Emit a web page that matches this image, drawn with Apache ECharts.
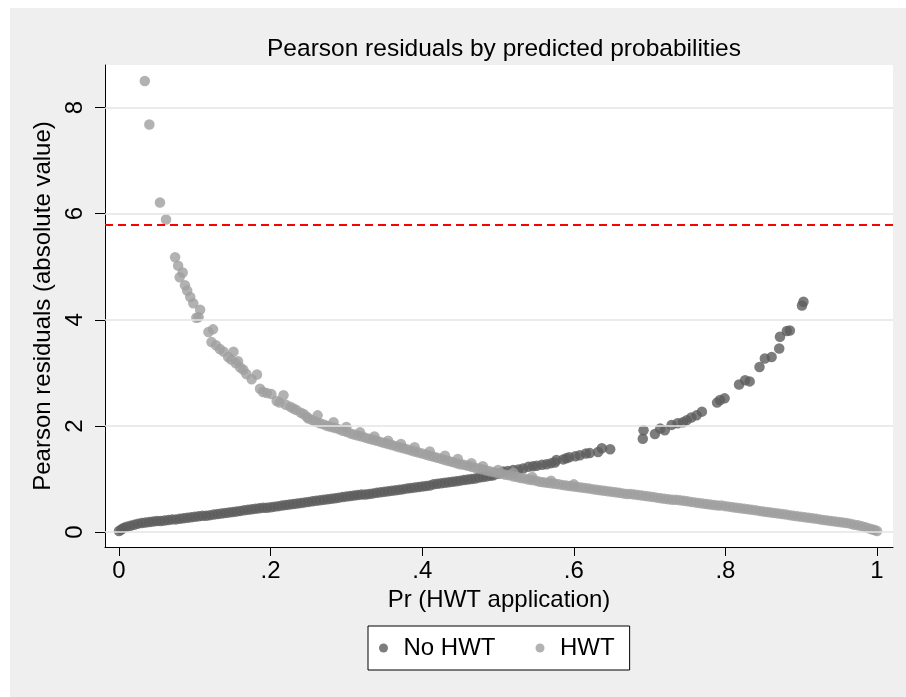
<!DOCTYPE html>
<html>
<head>
<meta charset="utf-8">
<script src="https://cdn.jsdelivr.net/npm/echarts@6/dist/echarts.min.js"></script>
<style>
  html, body { margin: 0; padding: 0; background: #ffffff; }
  #chart { width: 906px; height: 697px; }
</style>
</head>
<body>
<div id="chart"></div>
<script>
// Axis ticks
const xTicks = [0, 0.2, 0.4, 0.6, 0.8, 1];
const xTickLabels = ['0', '.2', '.4', '.6', '.8', '1'];
const yTicks = [0, 2, 4, 6, 8];
const yTickLabels = ['0', '2', '4', '6', '8'];
const gridValues = [0, 2, 4, 6, 8];
const cutoff = 5.8;

// No HWT: [predicted probability, |Pearson residual|]
const noHwtBand = [
  [0.000,0.02],[0.003,0.05],[0.006,0.08],[0.010,0.10],[0.015,0.12],[0.020,0.14],[0.025,0.16],
  [0.030,0.17],[0.035,0.18],[0.040,0.19],[0.045,0.20],[0.050,0.21],[0.055,0.21],[0.060,0.22],
  [0.065,0.23],[0.070,0.24],[0.075,0.24],[0.080,0.25],[0.085,0.26],[0.090,0.27],[0.095,0.28],
  [0.100,0.29],[0.105,0.30],[0.110,0.31],[0.115,0.31],[0.120,0.32],[0.125,0.33],[0.130,0.34],
  [0.135,0.35],[0.140,0.36],[0.145,0.37],[0.150,0.38],[0.155,0.39],[0.160,0.40],[0.165,0.41],
  [0.170,0.42],[0.175,0.43],[0.180,0.44],[0.185,0.45],[0.190,0.46],[0.195,0.46],[0.200,0.47],
  [0.205,0.48],[0.210,0.49],[0.215,0.50],[0.220,0.51],[0.225,0.52],[0.230,0.53],[0.235,0.54],
  [0.240,0.55],[0.245,0.56],[0.250,0.57],[0.255,0.58],[0.260,0.59],[0.265,0.60],[0.270,0.61],
  [0.275,0.62],[0.280,0.63],[0.285,0.64],[0.290,0.65],[0.295,0.66],[0.300,0.67],[0.305,0.68],
  [0.310,0.69],[0.315,0.70],[0.320,0.71],[0.325,0.71],[0.330,0.72],[0.335,0.73],[0.340,0.74],
  [0.345,0.75],[0.350,0.76],[0.355,0.77],[0.360,0.78],[0.365,0.79],[0.370,0.80],[0.375,0.81],
  [0.380,0.82],[0.385,0.83],[0.390,0.84],[0.395,0.85],[0.400,0.86],[0.405,0.87],[0.410,0.88],
  [0.415,0.90],[0.420,0.91],[0.425,0.92],[0.430,0.93],[0.435,0.94],[0.440,0.95],[0.445,0.96],
  [0.450,0.97],[0.455,0.98],[0.460,0.99],[0.465,1.00],[0.470,1.01],[0.475,1.03],[0.480,1.04],
  [0.485,1.05],[0.490,1.06]
];
const noHwtTail = [
  [0.494,1.07],[0.500,1.10],[0.507,1.14],[0.513,1.15],[0.520,1.17],[0.527,1.18],[0.533,1.20],
  [0.540,1.23],[0.546,1.24],[0.551,1.25],[0.558,1.27],[0.564,1.28],[0.570,1.30],[0.575,1.31],
  [0.577,1.36],[0.586,1.37],[0.590,1.39],[0.594,1.41],[0.602,1.43],[0.608,1.45],[0.616,1.48],
  [0.621,1.49],[0.632,1.51],[0.637,1.58],[0.648,1.56],[0.691,1.76],[0.692,1.92],[0.707,1.85],
  [0.714,1.95],[0.720,1.92],[0.729,2.02],[0.737,2.05],[0.744,2.07],[0.749,2.11],[0.755,2.16],
  [0.762,2.20],[0.769,2.27],[0.789,2.44],[0.793,2.49],[0.799,2.52],[0.818,2.78],[0.826,2.86],
  [0.832,2.84],[0.845,3.11],[0.852,3.27],[0.861,3.30],[0.871,3.46],[0.872,3.68],[0.881,3.79],
  [0.885,3.80],[0.901,4.27],[0.903,4.34]
];

// HWT: [predicted probability, |Pearson residual|]
const hwtTail = [
  [0.034,8.50],[0.040,7.68],[0.054,6.21],[0.062,5.89],[0.074,5.18],[0.078,5.02],[0.084,4.89],
  [0.080,4.80],[0.087,4.65],[0.090,4.55],[0.094,4.43],[0.098,4.31],[0.107,4.19],[0.105,4.05],
  [0.102,4.04],[0.118,3.77],[0.124,3.82],[0.122,3.58],[0.128,3.52],[0.133,3.45],[0.138,3.40],
  [0.144,3.30],[0.151,3.40],[0.148,3.25],[0.154,3.18],[0.157,3.22],[0.160,3.10],[0.164,3.06],
  [0.168,2.98],[0.175,2.88],[0.182,2.97],[0.186,2.70],[0.190,2.64],[0.195,2.62],[0.201,2.60],
  [0.208,2.47],[0.212,2.44],[0.217,2.58],[0.220,2.40],[0.226,2.36],[0.230,2.33],[0.234,2.30],
  [0.240,2.25],[0.244,2.22],[0.248,2.17],
  [0.262,2.20],[0.283,2.07],[0.300,1.98],[0.318,1.88],[0.337,1.80],[0.355,1.72],[0.372,1.66],
  [0.390,1.60],[0.410,1.52],[0.430,1.44],[0.447,1.38],[0.465,1.30],[0.480,1.24],[0.500,1.17],
  [0.520,1.12],[0.545,1.04],[0.570,0.97],[0.600,0.90]
];
const hwtBand = [
  [0.250,2.14],[0.255,2.11],[0.260,2.08],[0.265,2.05],[0.270,2.03],[0.275,2.00],[0.280,1.98],
  [0.285,1.96],[0.290,1.94],[0.295,1.91],[0.300,1.89],[0.305,1.86],[0.310,1.84],[0.315,1.82],
  [0.320,1.80],[0.325,1.78],[0.330,1.76],[0.335,1.74],[0.340,1.72],[0.345,1.70],[0.350,1.68],
  [0.355,1.66],[0.360,1.64],[0.365,1.62],[0.370,1.60],[0.375,1.58],[0.380,1.56],[0.385,1.54],
  [0.390,1.52],[0.395,1.50],[0.400,1.48],[0.405,1.46],[0.410,1.44],[0.415,1.42],[0.420,1.40],
  [0.425,1.38],[0.430,1.36],[0.435,1.34],[0.440,1.32],[0.445,1.30],[0.450,1.28],[0.455,1.27],
  [0.460,1.25],[0.465,1.23],[0.470,1.21],[0.475,1.20],[0.480,1.18],[0.485,1.16],[0.490,1.14],
  [0.495,1.13],[0.500,1.11],[0.505,1.10],[0.510,1.08],[0.515,1.07],[0.520,1.05],[0.525,1.04],
  [0.530,1.02],[0.535,1.01],[0.540,0.99],[0.545,0.98],[0.550,0.97],[0.555,0.95],[0.560,0.94],
  [0.565,0.93],[0.570,0.92],[0.575,0.91],[0.580,0.90],[0.585,0.89],[0.590,0.88],[0.595,0.87],
  [0.600,0.86],[0.605,0.85],[0.610,0.84],[0.615,0.83],[0.620,0.82],[0.625,0.81],[0.630,0.80],
  [0.635,0.79],[0.640,0.78],[0.645,0.77],[0.650,0.76],[0.655,0.75],[0.660,0.74],[0.665,0.73],
  [0.670,0.72],[0.675,0.72],[0.680,0.71],[0.685,0.70],[0.690,0.69],[0.695,0.68],[0.700,0.67],
  [0.705,0.66],[0.710,0.65],[0.715,0.64],[0.720,0.63],[0.725,0.62],[0.730,0.61],[0.735,0.61],
  [0.740,0.60],[0.745,0.59],[0.750,0.58],[0.755,0.57],[0.760,0.56],[0.765,0.55],[0.770,0.54],
  [0.775,0.53],[0.780,0.52],[0.785,0.51],[0.790,0.50],[0.795,0.50],[0.800,0.49],[0.805,0.48],
  [0.810,0.47],[0.815,0.46],[0.820,0.45],[0.825,0.44],[0.830,0.43],[0.835,0.42],[0.840,0.41],
  [0.845,0.40],[0.850,0.39],[0.855,0.38],[0.860,0.37],[0.865,0.36],[0.870,0.35],[0.875,0.34],
  [0.880,0.33],[0.885,0.32],[0.890,0.31],[0.895,0.30],[0.900,0.29],[0.905,0.28],[0.910,0.27],
  [0.915,0.26],[0.920,0.25],[0.925,0.24],[0.930,0.23],[0.935,0.22],[0.940,0.21],[0.945,0.20],
  [0.950,0.19],[0.955,0.18],[0.960,0.17],[0.965,0.16],[0.970,0.14],[0.975,0.13],[0.980,0.11],
  [0.985,0.09],[0.990,0.07],[0.994,0.05],[0.997,0.04],[1.000,0.02]
];

const FONT = "'Liberation Sans', Arial, sans-serif";
const DARK = '#5c5c5c';
const LIGHT = '#9f9f9f';

function tickText(values, labels) {
  return function (v) {
    const i = values.findIndex(t => Math.abs(t - v) < 1e-9);
    return i >= 0 ? labels[i] : '';
  };
}

const chart = echarts.init(document.getElementById('chart'), null, { renderer: 'canvas' });

chart.setOption({
  animation: false,
  backgroundColor: '#ffffff',
  textStyle: { fontFamily: FONT },
  graphic: [{
    type: 'rect',
    left: 10, top: 8,
    shape: { width: 896, height: 689 },
    style: { fill: '#efefef' },
    z: -10, silent: true
  }],
  title: {
    text: 'Pearson residuals by predicted probabilities',
    left: 499, top: 32, textAlign: 'center',
    textStyle: { fontFamily: FONT, fontSize: 24.5, fontWeight: 'normal', color: '#000' }
  },
  grid: {
    left: 105, right: 13, top: 65, bottom: 150,
    show: true, backgroundColor: '#ffffff', borderWidth: 0
  },
  xAxis: {
    type: 'value',
    min: -0.0185, max: 1.0211,
    name: 'Pr (HWT application)',
    nameLocation: 'middle', nameGap: 38,
    nameTextStyle: { fontFamily: FONT, fontSize: 24, color: '#000' },
    axisLine: { show: true, onZero: false, lineStyle: { color: '#000', width: 1 } },
    axisTick: { show: true, length: 9, customValues: xTicks, lineStyle: { color: '#000', width: 1 } },
    axisLabel: {
      customValues: xTicks, formatter: tickText(xTicks, xTickLabels),
      margin: 12, fontFamily: FONT, fontSize: 24, color: '#000'
    },
    splitLine: { show: false }
  },
  yAxis: {
    type: 'value',
    min: -0.28, max: 8.80,
    name: 'Pearson residuals (absolute value)',
    nameLocation: 'middle', nameGap: 37, nameRotate: 90,
    nameTextStyle: { fontFamily: FONT, fontSize: 24, color: '#000' },
    axisLine: { show: true, onZero: false, lineStyle: { color: '#000', width: 1 } },
    axisTick: { show: true, length: 10, customValues: yTicks, lineStyle: { color: '#000', width: 1 } },
    axisLabel: {
      customValues: yTicks, formatter: tickText(yTicks, yTickLabels),
      rotate: 90, margin: 18, fontFamily: FONT, fontSize: 24, color: '#000'
    },
    splitLine: { show: false }
  },
  legend: {
    left: 368, top: 626,
    orient: 'horizontal',
    backgroundColor: '#ffffff',
    borderColor: '#000', borderWidth: 1, borderRadius: 0,
    padding: [10, 15, 10, 11],
    itemWidth: 30, itemHeight: 9, itemGap: 40,
    textStyle: { fontFamily: FONT, fontSize: 24, color: '#000' },
    data: ['No HWT', 'HWT']
  },
  series: [
    {
      // reference lines: grid at the labelled values and the cutoff
      type: 'line', data: [], silent: true, z: 1,
      markLine: {
        silent: true, symbol: 'none', animation: false,
        label: { show: false },
        data: gridValues.map(v => ({ yAxis: v, lineStyle: { color: '#e4e4e4', width: 1.5, type: 'solid' } }))
          .concat([{ yAxis: cutoff, lineStyle: { color: '#ff0000', width: 2, type: [8, 5] } }])
      }
    },
    {
      name: 'No HWT', type: 'scatter', z: 3,
      symbol: 'circle', symbolSize: 10.5,
      itemStyle: { color: DARK },
      data: noHwtBand.concat(noHwtTail)
    },
    {
      name: 'HWT', type: 'scatter', z: 4,
      symbol: 'circle', symbolSize: 10.5,
      itemStyle: { color: LIGHT },
      data: hwtTail.concat(hwtBand)
    }
  ]
});
</script>
</body>
</html>
